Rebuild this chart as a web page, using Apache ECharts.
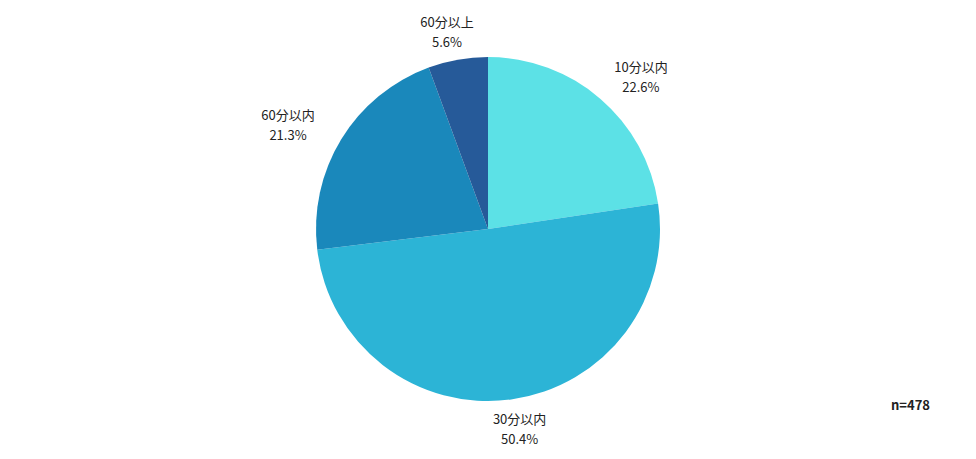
<!DOCTYPE html>
<html>
<head>
<meta charset="utf-8">
<style>
  html, body { margin: 0; padding: 0; background: #fff; }
  #chart { width: 976px; height: 459px; }
</style>
<script src="https://cdn.jsdelivr.net/npm/echarts@6/dist/echarts.min.js"></script>
</head>
<body>
<div id="chart"></div>
<script>
var categories = ['10分以内', '30分以内', '60分以内', '60分以上'];
var values = [22.6, 50.4, 21.3, 5.6];
var colors = ['#5ce1e6', '#2cb4d6', '#1a88bb', '#265a99'];
var sampleNote = 'n=478';

(function() {
  var font = '"Noto Sans CJK JP","Noto Sans CJK SC",sans-serif';
  var chart = echarts.init(document.getElementById('chart'), null, { renderer: 'svg' });
  var cx = 488, cy = 229, R = 172, gap = 9;

  var total = values.reduce(function(a, b) { return a + b; }, 0);
  // mid angle of each slice, clockwise from 12 o'clock
  var mids = [];
  var acc = 0;
  values.forEach(function(v) {
    mids.push((acc + v / 2) / total * Math.PI * 2);
    acc += v;
  });

  var data = categories.map(function(name, i) {
    return { name: name, value: values[i], itemStyle: { color: colors[i] } };
  });

  chart.setOption({
    animation: false,
    graphic: [{
      type: 'text',
      right: 46,
      top: 398,
      style: { text: sampleNote, fill: '#222', font: 'bold 13px ' + font }
    }],
    series: [{
      type: 'pie',
      center: [cx, cy],
      radius: R,
      startAngle: 90,
      clockwise: true,
      data: data,
      label: {
        show: true,
        position: 'outside',
        formatter: function(p) { return p.name + '\n' + p.value.toFixed(1) + '%'; },
        color: '#222',
        fontFamily: font,
        fontSize: 13,
        lineHeight: 20
      },
      labelLine: { show: false },
      labelLayout: function(p) {
        var a = mids[p.dataIndex];
        var sx = Math.sin(a), sy = -Math.cos(a);
        var w = p.labelRect.width, h = p.labelRect.height;
        return {
          x: cx + sx * (R + gap + w),
          y: cy + sy * (R + gap + h / 2),
          align: 'center',
          verticalAlign: 'middle'
        };
      },
      itemStyle: { borderWidth: 0 }
    }]
  });
})();
</script>
</body>
</html>
